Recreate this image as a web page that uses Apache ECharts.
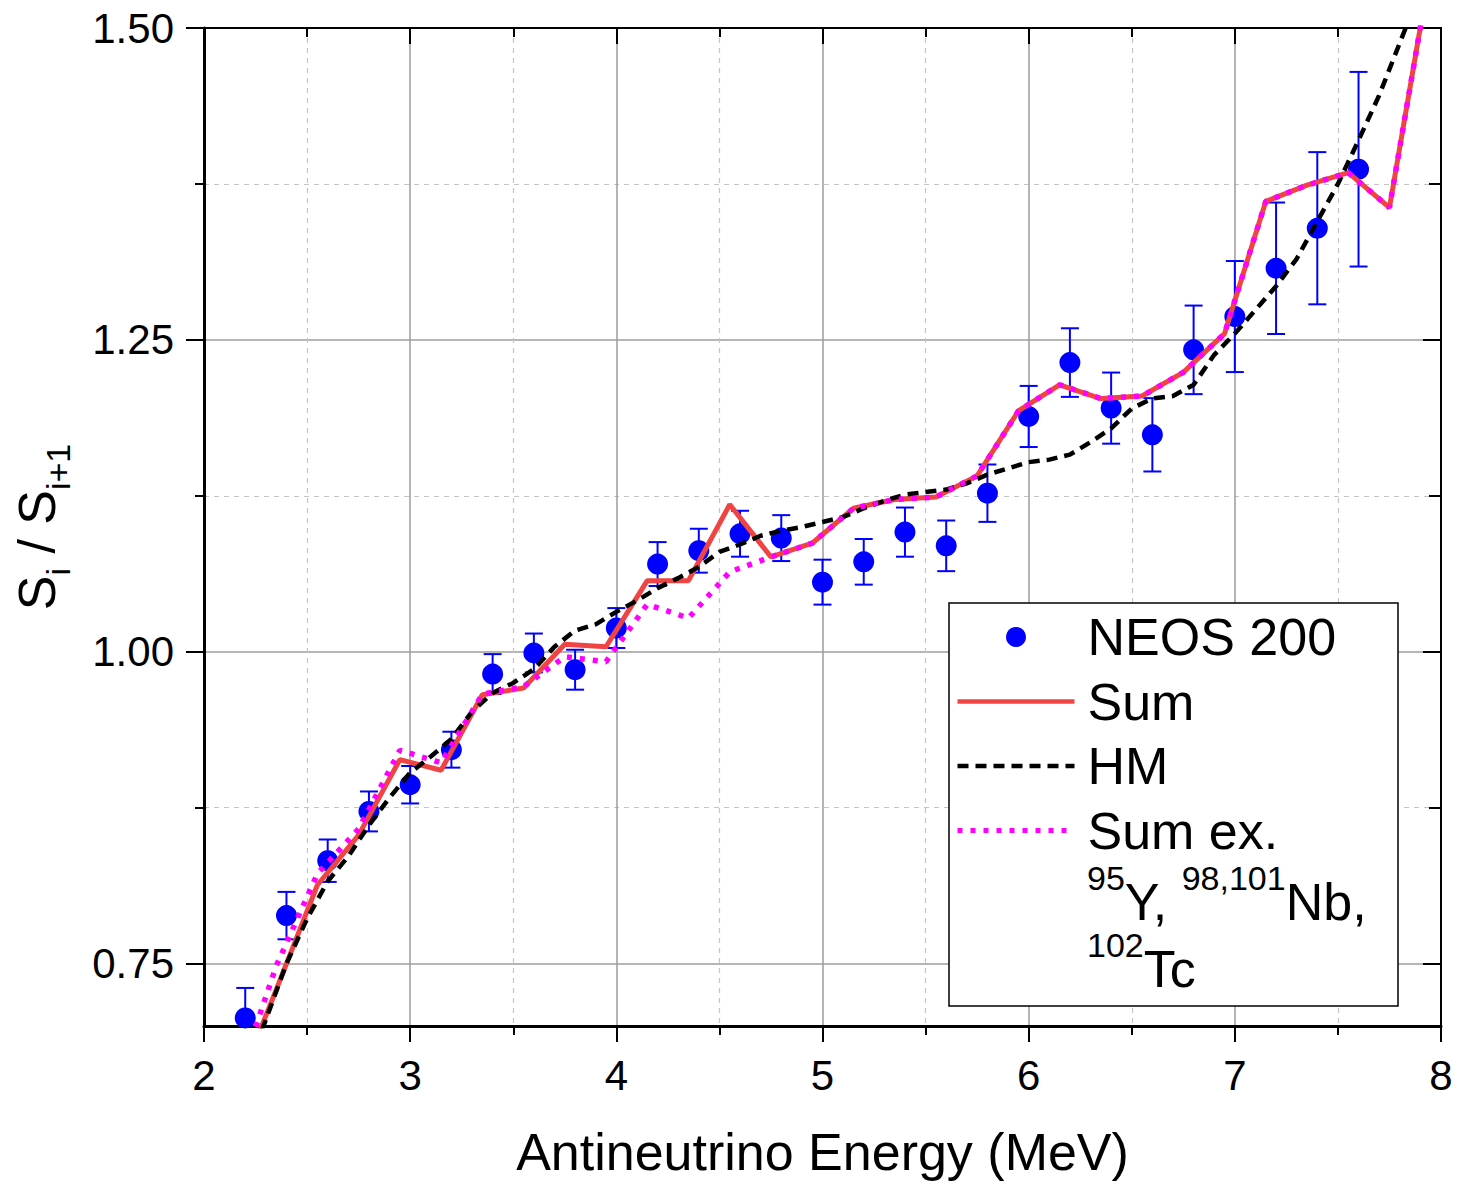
<!DOCTYPE html>
<html>
<head>
<meta charset="utf-8">
<script src="https://cdn.jsdelivr.net/npm/echarts@6/dist/echarts.min.js"></script>
<style>
html,body{margin:0;padding:0;background:#fff;}
#chart{width:1473px;height:1184px;}
</style>
</head>
<body>
<div id="chart"></div>
<script>
// ---- Data ----
const xTicks = [2, 3, 4, 5, 6, 7, 8];
const yTickLabels = [0.75, 1.00, 1.25, 1.50];
const yMinorTicks = [0.875, 1.125, 1.375];

const neosE = [2.2, 2.4, 2.6, 2.8, 3.0, 3.2, 3.4, 3.6, 3.8, 4.0, 4.2, 4.4, 4.6, 4.8, 5.0,
  5.2, 5.4, 5.6, 5.8, 6.0, 6.2, 6.4, 6.6, 6.8, 7.0, 7.2, 7.4, 7.6];
const neosVal = [0.7065, 0.7885, 0.8325, 0.872, 0.8934, 0.9215, 0.9821, 0.999, 0.9856, 1.019,
  1.0703, 1.081, 1.0946, 1.0911, 1.0558, 1.0721, 1.0959, 1.0849, 1.1271, 1.1886,
  1.2318, 1.1953, 1.1739, 1.242, 1.2687, 1.3074, 1.3395, 1.3868];
const neosErr = [0.024, 0.019, 0.017, 0.016, 0.015, 0.0144, 0.016, 0.0156, 0.016, 0.016,
  0.0176, 0.0176, 0.0184, 0.0184, 0.018, 0.0183, 0.0197, 0.0203, 0.023, 0.0245,
  0.0275, 0.0285, 0.0294, 0.0355, 0.0445, 0.0527, 0.061, 0.078];

const sumE = [2.15, 2.35, 2.55, 2.75, 2.95, 3.15, 3.35, 3.55, 3.75, 3.95,
  4.15, 4.35, 4.55, 4.75, 4.95, 5.15, 5.35, 5.55, 5.75, 5.95,
  6.15, 6.35, 6.55, 6.75, 6.95, 7.15, 7.35, 7.55, 7.75, 7.95];
const sumVal = [0.646, 0.729, 0.813, 0.853, 0.9135, 0.905, 0.9655, 0.971, 1.006, 1.004,
  1.057, 1.057, 1.118, 1.076, 1.087, 1.115, 1.122, 1.124, 1.141, 1.193,
  1.214, 1.203, 1.205, 1.224, 1.255, 1.361, 1.374, 1.384, 1.356, 1.549];
const sumExVal = [0.650, 0.748, 0.822, 0.858, 0.921, 0.911, 0.966, 0.972, 0.996, 0.992,
  1.038, 1.027, 1.064, 1.076, 1.087, 1.115, 1.122, 1.124, 1.141, 1.193,
  1.214, 1.203, 1.205, 1.224, 1.255, 1.361, 1.374, 1.384, 1.356, 1.549];

const hmE = [2.25, 2.3, 2.4, 2.5, 2.6, 2.7, 2.8, 2.9, 3.0, 3.1, 3.2, 3.3, 3.4, 3.5, 3.6, 3.7,
  3.8, 3.9, 4.0, 4.1, 4.2, 4.3, 4.4, 4.5, 4.6, 4.7, 4.8, 4.9, 5.0, 5.1, 5.2, 5.3, 5.4, 5.5,
  5.6, 5.7, 5.8, 5.9, 6.0, 6.1, 6.2, 6.3, 6.4, 6.5, 6.6, 6.7, 6.8, 6.9, 7.0, 7.1, 7.2, 7.3,
  7.4, 7.5, 7.6, 7.7, 7.8, 7.9];
const hmVal = [0.683, 0.705, 0.750, 0.786, 0.816, 0.836, 0.861, 0.883, 0.903, 0.916, 0.930,
  0.952, 0.967, 0.975, 0.986, 1.004, 1.017, 1.022, 1.032, 1.041, 1.051, 1.059, 1.068, 1.080,
  1.086, 1.093, 1.097, 1.100, 1.104, 1.108, 1.115, 1.121, 1.126, 1.128, 1.130, 1.135, 1.142,
  1.147, 1.152, 1.154, 1.158, 1.168, 1.179, 1.195, 1.203, 1.205, 1.214, 1.238, 1.255, 1.274,
  1.293, 1.315, 1.345, 1.375, 1.410, 1.446, 1.488, 1.530];

const seriesNames = ['NEOS 200', 'Sum', 'HM', 'Sum ex.'];
const xTitle = 'Antineutrino Energy (MeV)';

// ---- Chart ----
const FONT = "'Liberation Sans', Arial, Helvetica, sans-serif";
const chart = echarts.init(document.getElementById('chart'), null, {renderer: 'svg'});

const zip = (a, b) => a.map((v, i) => [v, b[i]]);
const yMin = 0.7, yMax = 1.5;

const baseY = {
  type: 'value', min: yMin, max: yMax, gridIndex: 0
};

const option = {
  backgroundColor: '#ffffff',
  animation: false,
  grid: {left: 204, top: 28, width: 1237, height: 998, containLabel: false},
  xAxis: [
    {
      type: 'value', min: 2, max: 8, interval: 1, position: 'bottom',
      axisLine: {show: true, onZero: false, lineStyle: {color: '#000', width: 3}},
      axisTick: {show: true, inside: false, length: 16, lineStyle: {color: '#000', width: 2}},
      minorTick: {show: true, splitNumber: 2, length: 9, lineStyle: {color: '#000', width: 2}},
      axisLabel: {show: true, fontSize: 42, color: '#000', fontFamily: FONT, margin: 28},
      splitLine: {show: true, lineStyle: {color: '#9c9c9c', width: 1.5}},
      minorSplitLine: {show: true, lineStyle: {color: '#c4c4c4', width: 1.2, type: [5, 5]}},
      name: xTitle, nameLocation: 'middle', nameGap: 100,
      nameTextStyle: {fontSize: 52, color: '#000', fontFamily: FONT}
    },
    {
      type: 'value', min: 2, max: 8, interval: 1, position: 'top',
      axisLine: {show: true, onZero: false, lineStyle: {color: '#000', width: 2}},
      axisTick: {show: true, inside: true, length: 16, lineStyle: {color: '#000', width: 2}},
      minorTick: {show: true, splitNumber: 2, length: 9, lineStyle: {color: '#000', width: 2}},
      axisLabel: {show: false},
      splitLine: {show: false}
    }
  ],
  yAxis: [
    Object.assign({}, baseY, {
      position: 'left',
      axisLine: {show: true, onZero: false, lineStyle: {color: '#000', width: 3}},
      axisTick: {show: true, inside: false, length: 18, customValues: yTickLabels,
        lineStyle: {color: '#000', width: 2}},
      axisLabel: {show: true, customValues: yTickLabels, fontSize: 42, color: '#000',
        fontFamily: FONT, margin: 30, formatter: v => Number(v).toFixed(2)},
      splitLine: {show: true, lineStyle: {color: '#9c9c9c', width: 1.5}},
      name: '{m|S}{s|i}{m| / S}{s|i+1}',
      nameLocation: 'middle', nameGap: 141, nameRotate: 90,
      nameTextStyle: {
        color: '#000', fontFamily: FONT,
        rich: {
          m: {fontSize: 52, fontFamily: FONT, color: '#000', lineHeight: 52, verticalAlign: 'top'},
          s: {fontSize: 34, fontFamily: FONT, color: '#000', lineHeight: 34, verticalAlign: 'top',
            padding: [30, 0, 0, 0]}
        }
      }
    }),
    Object.assign({}, baseY, {
      position: 'left',
      axisLine: {show: false},
      axisTick: {show: true, inside: false, length: 9, customValues: yMinorTicks,
        lineStyle: {color: '#000', width: 2}},
      axisLabel: {show: false, customValues: yMinorTicks},
      splitLine: {show: true, lineStyle: {color: '#c4c4c4', width: 1.2, type: [5, 5]}}
    }),
    Object.assign({}, baseY, {
      position: 'right',
      axisLine: {show: true, onZero: false, lineStyle: {color: '#000', width: 2}},
      axisTick: {show: true, inside: true, length: 18, customValues: yTickLabels,
        lineStyle: {color: '#000', width: 2}},
      axisLabel: {show: false, customValues: yTickLabels},
      splitLine: {show: false}
    }),
    Object.assign({}, baseY, {
      position: 'right',
      axisLine: {show: false},
      axisTick: {show: true, inside: true, length: 12, customValues: yMinorTicks,
        lineStyle: {color: '#000', width: 2}},
      axisLabel: {show: false, customValues: yMinorTicks},
      splitLine: {show: false}
    })
  ],
  legend: {
    data: [
      {name: seriesNames[0]},
      {name: seriesNames[1], itemStyle: {opacity: 0}, lineStyle: {width: 4.5}},
      {name: seriesNames[2], itemStyle: {opacity: 0}, lineStyle: {width: 4.5}},
      {name: seriesNames[3], itemStyle: {opacity: 0}, lineStyle: {width: 5}}
    ],
    orient: 'vertical',
    left: 955, top: 609,
    itemWidth: 117, itemHeight: 20, itemGap: 8.5,
    padding: 0,
    textStyle: {fontSize: 52, color: '#000', fontFamily: FONT, lineHeight: 56, padding: [0, 0, 0, 8]},
    selectedMode: false,
    z: 6
  },
  graphic: [
    {
      type: 'rect', z: 3,
      shape: {x: 949, y: 603, width: 449, height: 403},
      style: {fill: '#ffffff', stroke: '#000000', lineWidth: 1.5}
    },
    {
      type: 'text', z: 7, x: 1087, y: 861,
      style: {
        text: '{sup|95}{m|Y, }{sup|98,101}{m|Nb,}\n{sup|102}{m|Tc}',
        fill: '#000',
        rich: {
          m: {fontSize: 52, fontFamily: FONT, fill: '#000', lineHeight: 67, verticalAlign: 'bottom'},
          sup: {fontSize: 34, fontFamily: FONT, fill: '#000', lineHeight: 34, verticalAlign: 'bottom',
            padding: [0, 0, 33, 0]}
        }
      }
    }
  ],
  series: [
    {
      name: 'NEOS err', type: 'custom', xAxisIndex: 0, yAxisIndex: 0, clip: true, silent: true,
      z: 2,
      data: neosE.map((e, i) => [e, neosVal[i] - neosErr[i], neosVal[i] + neosErr[i]]),
      encode: {x: 0, y: [1, 2]},
      renderItem: function (params, api) {
        const x = api.value(0);
        const lo = api.coord([x, api.value(1)]);
        const hi = api.coord([x, api.value(2)]);
        const hw = 9;
        const st = {stroke: '#0000ff', lineWidth: 2, fill: null};
        return {
          type: 'group',
          children: [
            {type: 'line', shape: {x1: lo[0], y1: lo[1], x2: hi[0], y2: hi[1]}, style: st},
            {type: 'line', shape: {x1: lo[0] - hw, y1: lo[1], x2: lo[0] + hw, y2: lo[1]}, style: st},
            {type: 'line', shape: {x1: hi[0] - hw, y1: hi[1], x2: hi[0] + hw, y2: hi[1]}, style: st}
          ]
        };
      }
    },
    {
      name: 'NEOS 200', type: 'scatter', xAxisIndex: 0, yAxisIndex: 0, z: 3,
      symbol: 'circle', symbolSize: 21,
      itemStyle: {color: '#0000ff', opacity: 1},
      data: zip(neosE, neosVal), clip: true
    },
    {
      name: 'Sum', type: 'line', xAxisIndex: 0, yAxisIndex: 0, z: 4,
      symbol: 'none', showSymbol: false,
      lineStyle: {color: '#f04444', width: 5},
      itemStyle: {color: '#f04444'},
      data: zip(sumE, sumVal), clip: true
    },
    {
      name: 'HM', type: 'line', xAxisIndex: 0, yAxisIndex: 0, z: 5,
      symbol: 'none', showSymbol: false,
      lineStyle: {color: '#000000', width: 4.5, type: [11, 7]},
      itemStyle: {color: '#000000'},
      data: zip(hmE, hmVal), clip: true
    },
    {
      name: 'Sum ex.', type: 'line', xAxisIndex: 0, yAxisIndex: 0, z: 5,
      symbol: 'none', showSymbol: false,
      lineStyle: {color: '#ff00ff', width: 5.5, type: [5, 8]},
      itemStyle: {color: '#ff00ff'},
      data: zip(sumE, sumExVal), clip: true
    }
  ]
};
chart.setOption(option);
</script>
</body>
</html>
